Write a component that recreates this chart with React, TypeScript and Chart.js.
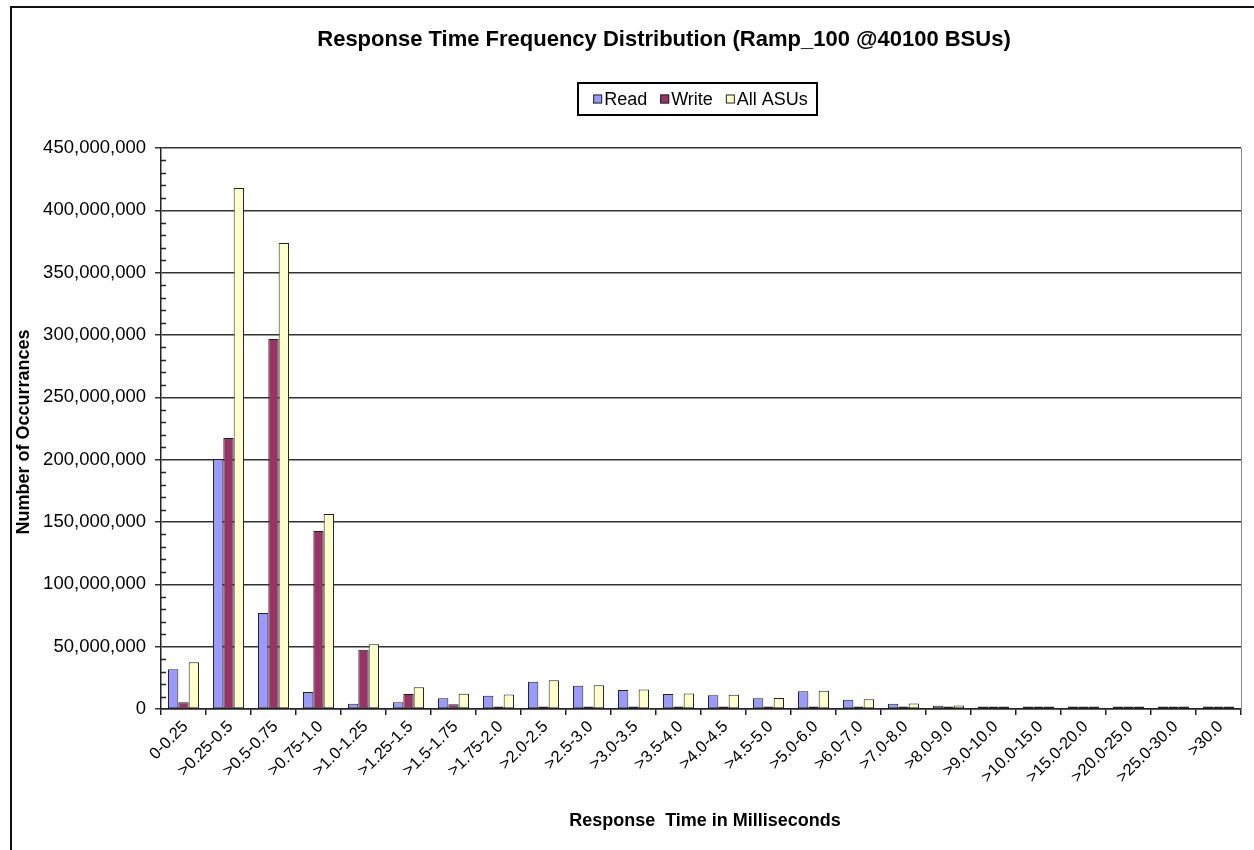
import React, { useEffect, useRef } from "react";
import { Chart, registerables } from "chart.js";

Chart.register(...registerables);

const categories = [
  "0-0.25", ">0.25-0.5", ">0.5-0.75", ">0.75-1.0", ">1.0-1.25", ">1.25-1.5",
  ">1.5-1.75", ">1.75-2.0", ">2.0-2.5", ">2.5-3.0", ">3.0-3.5", ">3.5-4.0",
  ">4.0-4.5", ">4.5-5.0", ">5.0-6.0", ">6.0-7.0", ">7.0-8.0", ">8.0-9.0",
  ">9.0-10.0", ">10.0-15.0", ">15.0-20.0", ">20.0-25.0", ">25.0-30.0", ">30.0",
];

const M = 1000000;

const readValues = [
  31.8, 200.5, 77, 13.6, 4.3, 5.5, 8.6, 10.7, 21.9, 18.7, 15.2, 12.0,
  11.0, 8.6, 14.2, 7.5, 4.3, 2.7, 1.1, 1.0, 1.0, 1.0, 1.0, 1.0,
].map((v) => v * M);

const writeValues = [
  5.4, 217.4, 296.8, 142.8, 47.5, 12.0, 3.8, 1.2, 1.2, 1.0, 1.0, 0.9,
  0.9, 0.9, 0.9, 0.8, 0.8, 0.8, 0.8, 0.8, 0.8, 0.8, 0.8, 0.8,
].map((v) => v * M);

const allValues = [
  37.5, 418, 373.8, 156.4, 52, 17.5, 12.3, 11.6, 23.0, 19.1, 15.7, 12.4,
  11.4, 8.9, 14.6, 7.8, 4.5, 2.9, 1.2, 1.1, 1.1, 1.1, 1.1, 1.1,
].map((v) => v * M);

const seriesNames = ["Read", "Write", "All ASUs"];
const seriesColors = ["#9999FF", "#993366", "#FFFFCC"];

const yMax = 450 * M;
const yStep = 50 * M;
const yMinorStep = 10 * M;

const titleText = "Response Time Frequency Distribution (Ramp_100 @40100 BSUs)";
const xTitle = "Response  Time in Milliseconds";
const yTitle = "Number of Occurrances";

const FONT = "'Liberation Sans', Arial, sans-serif";

const decoPlugin = {
  id: "deco",
  beforeDraw(chart: any) {
    const ctx = chart.ctx;
    ctx.save();
    ctx.fillStyle = "#ffffff";
    ctx.fillRect(0, 0, chart.width, chart.height);
    ctx.restore();
  },
  afterDraw(chart: any) {
    const ctx = chart.ctx;
    const { left, right, top, bottom } = chart.chartArea;
    ctx.save();

    // outer frame
    ctx.strokeStyle = "#111";
    ctx.lineWidth = 2;
    ctx.beginPath();
    ctx.moveTo(11, chart.height + 2);
    ctx.lineTo(11, 7);
    ctx.lineTo(chart.width + 2, 7);
    ctx.stroke();

    // plot area right border
    ctx.strokeStyle = "#888";
    ctx.lineWidth = 1;
    ctx.beginPath();
    ctx.moveTo(right + 0.5, top);
    ctx.lineTo(right + 0.5, bottom);
    ctx.stroke();

    // minor ticks on y axis
    const ys = chart.scales.y;
    ctx.strokeStyle = "#222";
    ctx.lineWidth = 1.5;
    for (let v = 0; v <= yMax; v += yMinorStep) {
      if (v % yStep === 0) continue;
      const py = Math.round(ys.getPixelForValue(v)) + 0.5;
      ctx.beginPath();
      ctx.moveTo(left, py);
      ctx.lineTo(left + 5, py);
      ctx.stroke();
    }

    // title
    ctx.fillStyle = "#000";
    ctx.font = `bold 22px ${FONT}`;
    ctx.textAlign = "center";
    ctx.textBaseline = "middle";
    ctx.fillText(titleText, 664, 40);

    // legend
    ctx.font = `18px ${FONT}`;
    const box = { x: 578, y: 83, w: 239, h: 32 };
    const marker = 9;
    const gapMarkerText = 2;
    const gapItems = 13;
    const widths = seriesNames.map((n) => ctx.measureText(n).width);
    const total =
      widths.reduce((a: number, b: number) => a + b, 0) +
      seriesNames.length * (marker + gapMarkerText) +
      (seriesNames.length - 1) * gapItems;
    let lx = box.x + box.w / 2 - total / 2 + 3;
    const ly = box.y + box.h / 2;
    ctx.strokeStyle = "#000";
    ctx.lineWidth = 2;
    ctx.strokeRect(box.x, box.y, box.w, box.h);
    ctx.textAlign = "left";
    seriesNames.forEach((n, i) => {
      ctx.fillStyle = seriesColors[i];
      ctx.fillRect(lx, ly - marker / 2, marker, marker);
      ctx.strokeStyle = "#222";
      ctx.lineWidth = 1;
      ctx.strokeRect(lx + 0.5, ly - marker / 2 + 0.5, marker - 1, marker - 1);
      ctx.fillStyle = "#000";
      ctx.fillText(n, lx + marker + gapMarkerText, ly + 1);
      lx += marker + gapMarkerText + widths[i] + gapItems;
    });

    // axis titles
    ctx.font = `bold 18px ${FONT}`;
    ctx.textAlign = "center";
    ctx.fillText(xTitle, 705, 821);
    ctx.save();
    ctx.translate(24, 432);
    ctx.rotate(-Math.PI / 2);
    ctx.fillText(yTitle, 0, 0);
    ctx.restore();

    ctx.restore();
  },
};

export default function App() {
  const ref = useRef<HTMLCanvasElement | null>(null);

  useEffect(() => {
    if (!ref.current) return;
    const datasets = [readValues, writeValues, allValues].map((d, i) => ({
      label: seriesNames[i],
      data: d,
      backgroundColor: seriesColors[i],
      borderColor: "#222",
      borderWidth: 1,
      borderSkipped: false as const,
      minBarLength: 2.5,
      categoryPercentage: 0.69,
      barPercentage: 1.0,
    }));
    const chart = new Chart(ref.current, {
      type: "bar",
      data: { labels: categories, datasets },
      plugins: [decoPlugin],
      options: {
        responsive: false,
        animation: false,
        layout: { padding: { top: 148, right: 13, left: 11, bottom: 0 } },
        plugins: {
          legend: { display: false },
          title: { display: false },
          tooltip: { enabled: false },
        },
        scales: {
          x: {
            type: "category",
            offset: true,
            grid: {
              offset: true,
              drawOnChartArea: false,
              drawTicks: true,
              tickLength: 6,
              color: "#222",
              lineWidth: 1.5,
            },
            border: { display: true, color: "#222", width: 1.5 },
            ticks: {
              autoSkip: false,
              minRotation: 45,
              maxRotation: 45,
              color: "#000",
              padding: 2,
              labelOffset: 2,
              font: { size: 16.5, family: FONT },
            },
            afterFit(scale: any) {
              scale.height = 141;
            },
          },
          y: {
            min: 0,
            max: yMax,
            ticks: {
              stepSize: yStep,
              color: "#000",
              padding: 9,
              font: { size: 18.5, family: FONT },
              callback: (v: any) => Number(v).toLocaleString("en-US"),
            },
            grid: { color: "#333", lineWidth: 1.5, tickLength: 6 },
            border: { display: true, color: "#222", width: 1.5 },
            afterFit(scale: any) {
              scale.width = 150;
            },
          },
        },
      },
    });
    return () => chart.destroy();
  }, []);

  return (
    <div style={{ position: "fixed", left: 0, top: 0, width: 1254, height: 850, background: "#fff" }}>
      <canvas ref={ref} width={1254} height={850} style={{ display: "block" }} />
    </div>
  );
}
